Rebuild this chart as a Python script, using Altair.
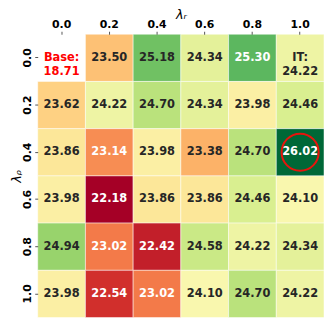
import altair as alt
import pandas as pd

lam_r = ["0.0", "0.2", "0.4", "0.6", "0.8", "1.0"]
lam_rho = ["0.0", "0.2", "0.4", "0.6", "0.8", "1.0"]
values = [
    [None, 23.50, 25.18, 24.34, 25.30, 24.22],
    [23.62, 24.22, 24.70, 24.34, 23.98, 24.46],
    [23.86, 23.14, 23.98, 23.38, 24.70, 26.02],
    [23.98, 22.18, 23.86, 23.86, 24.46, 24.10],
    [24.94, 23.02, 22.42, 24.58, 24.22, 24.34],
    [23.98, 22.54, 23.02, 24.10, 24.70, 24.22],
]
base_value = 18.71
it_value = 24.22
white_text_cells = {(2, 1), (3, 1), (4, 1), (4, 2), (5, 1), (5, 2), (0, 4), (2, 5)}
highlight = ("1.0", "0.4")

rows = []
for i, rho in enumerate(lam_rho):
    for j, r in enumerate(lam_r):
        v = values[i][j]
        if v is None:
            label = f"Base:\n{base_value:.2f}"
            tcol = "#ff0000"
        elif i == 0 and j == 5:
            label = f"IT:\n{it_value:.2f}"
            tcol = "#262626"
        else:
            label = f"{v:.2f}"
            tcol = "#ffffff" if (i, j) in white_text_cells else "#262626"
        rows.append({"lr": r, "lrho": rho, "value": v, "label": label, "tcol": tcol})
df = pd.DataFrame(rows)
hl = pd.DataFrame([{"lr": highlight[0], "lrho": highlight[1]}])

xenc = alt.X("lr:N", sort=lam_r, scale=alt.Scale(paddingInner=0, paddingOuter=0),
             axis=alt.Axis(orient="top", title="λᵣ", titleFontStyle="italic",
                           titleFontWeight="normal", titleFontSize=13,
                           titleX=144.5, titleY=-16, titleBaseline="alphabetic",
                           titleAlign="center",
                           labelFontWeight="bold", labelFontSize=11, labelAngle=0,
                           labelColor="#000000", tickSize=3, tickColor="#555555",
                           domain=False, labelPadding=2, titleColor="#000000",
                           labelFont="DejaVu Sans", titleFont="DejaVu Sans"))
yenc = alt.Y("lrho:N", sort=lam_rho, scale=alt.Scale(paddingInner=0, paddingOuter=0),
             axis=alt.Axis(title="λᵨ", titleFontStyle="italic", titleFontWeight="normal",
                           titleFontSize=13, titleX=-21, titleY=143, titleAngle=270,
                           titleBaseline="middle", titleAlign="center",
                           labelFontWeight="bold",
                           labelFontSize=11, labelAngle=270, labelAlign="center",
                           labelBaseline="bottom", labelColor="#000000",
                           tickSize=3, tickColor="#555555", domain=False, labelPadding=2,
                           titleColor="#000000", labelFont="DejaVu Sans",
                           titleFont="DejaVu Sans"))

rect = alt.Chart(df).mark_rect(stroke="white", strokeWidth=0.5).encode(
    x=xenc, y=yenc,
    color=alt.condition("datum.value == null", alt.value("white"),
                        alt.Color("value:Q", scale=alt.Scale(scheme="redyellowgreen",
                                                             domain=[22.18, 26.02]),
                                  legend=None)),
)
text = alt.Chart(df).mark_text(fontWeight="bold", fontSize=11.5, font="DejaVu Sans",
                               lineBreak="\n", lineHeight=14).encode(
    x=alt.X("lr:N", sort=lam_r), y=alt.Y("lrho:N", sort=lam_rho),
    text="label:N", color=alt.Color("tcol:N", scale=None, legend=None),
)
circle = alt.Chart(hl).mark_point(shape="circle", filled=False, stroke="#e8140c",
                                  strokeWidth=2, size=1400, opacity=1).encode(
    x=alt.X("lr:N", sort=lam_r), y=alt.Y("lrho:N", sort=lam_rho),
)

chart = (rect + text + circle).resolve_scale(color="independent").properties(
    width=289, height=286,
    autosize=alt.AutoSizeParams(type="none"),
    padding={"left": 30, "top": 25, "right": 0, "bottom": 0},
).configure_view(strokeWidth=0)

chart.save("out.html", embed_options={"renderer": "svg", "actions": False})
